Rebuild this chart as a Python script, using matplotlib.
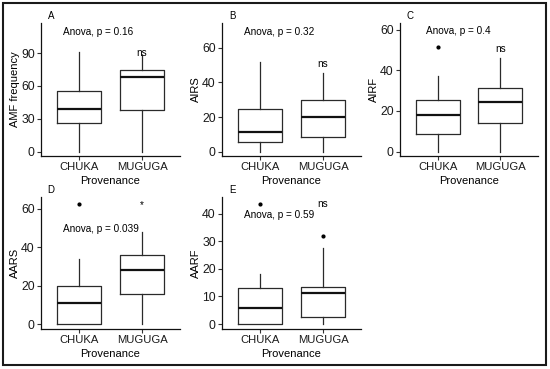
import matplotlib
matplotlib.use("Agg")
import matplotlib.pyplot as plt
from matplotlib.patches import Rectangle

plt.rcParams["font.family"] = ["Liberation Sans", "DejaVu Sans"]

W, H = 550, 369

groups = ["CHUKA", "MUGUGA"]

# box stats per panel: (whislo, q1, med, q3, whishi), outliers
amf_chuka = [0, 25.8, 38.6, 55.6, 91.2]
amf_muguga = [0, 37.9, 67.8, 74.8, 88]
airs_chuka = [0, 5.8, 11.6, 24.4, 51.9]
airs_muguga = [0, 8.7, 19.9, 30.0, 45.7]
airf_chuka = [0, 8.5, 17.8, 25.4, 37.4]
airf_muguga = [0, 14.1, 24.3, 31.4, 46.2]
aars_chuka = [0, 0, 11.2, 19.8, 34.1]
aars_muguga = [0, 15.7, 28.1, 35.9, 47.9]
aarf_chuka = [0, 0, 5.9, 13.1, 18.0]
aarf_muguga = [0, 2.5, 11.1, 13.4, 27.7]

airf_out = [[51.5], []]
aars_out = [[62.6], []]
aarf_out = [[43.6], [31.8]]

panels = [
    # letter, ylabel, stats, outliers, ylim, yticks, anova, anova pos, sig label, sig y, pixel box
    ("A", "AMF frequency", [amf_chuka, amf_muguga], [[], []], (-3.9, 117.5), [0, 30, 60, 90],
     "Anova, p = 0.16", (0.75, 109.5), "ns", 90, (41, 23, 180, 156)),
    ("B", "AIRS", [airs_chuka, airs_muguga], [[], []], (-2.5, 74.3), [0, 20, 40, 60],
     "Anova, p = 0.32", (0.75, 69.3), "ns", 50.9, (222, 23, 361, 156)),
    ("C", "AIRF", [airf_chuka, airf_muguga], airf_out, (-2.2, 63.3), [0, 20, 40, 60],
     "Anova, p = 0.4", (0.81, 59.5), "ns", 50.7, (400, 23, 538, 156)),
    ("D", "AARS", [aars_chuka, aars_muguga], aars_out, (-2.2, 66.0), [0, 20, 40, 60],
     "Anova, p = 0.039", (0.75, 49.3), "*", 60.4, (41, 197, 180, 328.5)),
    ("E", "AARF", [aarf_chuka, aarf_muguga], aarf_out, (-1.6, 46.0), [0, 10, 20, 30, 40],
     "Anova, p = 0.59", (0.75, 39.6), "ns", 43.3, (222, 197, 361, 328.5)),
]

fig = plt.figure(figsize=(W / 100, H / 100), dpi=100)

for letter, ylabel, stats, outs, ylim, yticks, anova, apos, sig, sig_y, box in panels:
    l, t, r, b = box
    ax = fig.add_axes([l / W, 1 - b / H, (r - l) / W, (b - t) / H])
    bstats = []
    for name, s, o in zip(groups, stats, outs):
        bstats.append({"label": name, "whislo": s[0], "q1": s[1], "med": s[2],
                       "q3": s[3], "whishi": s[4], "fliers": o})
    ax.bxp(bstats, positions=[1, 2], widths=0.7, showcaps=False,
           boxprops=dict(color="#2a2a2a", linewidth=0.9),
           whiskerprops=dict(color="#2a2a2a", linewidth=0.9),
           medianprops=dict(color="#111111", linewidth=1.6),
           flierprops=dict(marker="o", markersize=2.0, markerfacecolor="black",
                           markeredgecolor="black"))
    ax.set_xlim(0.4, 2.6)
    ax.set_ylim(*ylim)
    ax.set_yticks(yticks)
    ax.set_xticks([1, 2])
    ax.set_xticklabels(groups)
    ax.spines["top"].set_visible(False)
    ax.spines["right"].set_visible(False)
    for sp in ("left", "bottom"):
        ax.spines[sp].set_linewidth(0.9)
        ax.spines[sp].set_color("#111111")
    ax.tick_params(length=3, width=0.8, color="#333333", labelcolor="#1a1a1a", pad=1.5)
    ax.tick_params(axis="x", labelsize=8.1)
    ax.tick_params(axis="y", labelsize=8.8)
    ax.set_xlabel("Provenance", fontsize=8, labelpad=3)
    ax.set_ylabel(ylabel, fontsize=8, labelpad=0.5)
    ax.text(apos[0], apos[1], anova, fontsize=7.2, ha="left", va="center")
    if sig == "*":
        ax.text(2, sig_y, sig, fontsize=7.2, ha="center", va="baseline")
    else:
        ax.text(2, sig_y, sig, fontsize=7.2, ha="center", va="center")
    fig.text((l + 10) / W, 1 - (t - 7) / H, letter, fontsize=7, ha="center", va="center")

fig.patches.append(Rectangle((2.5 / W, 1 - 365 / H), 543 / W, 362 / H,
                             transform=fig.transFigure, fill=False,
                             edgecolor="#1a1a1a", linewidth=1.5))

fig.savefig("out.png", dpi=100)
